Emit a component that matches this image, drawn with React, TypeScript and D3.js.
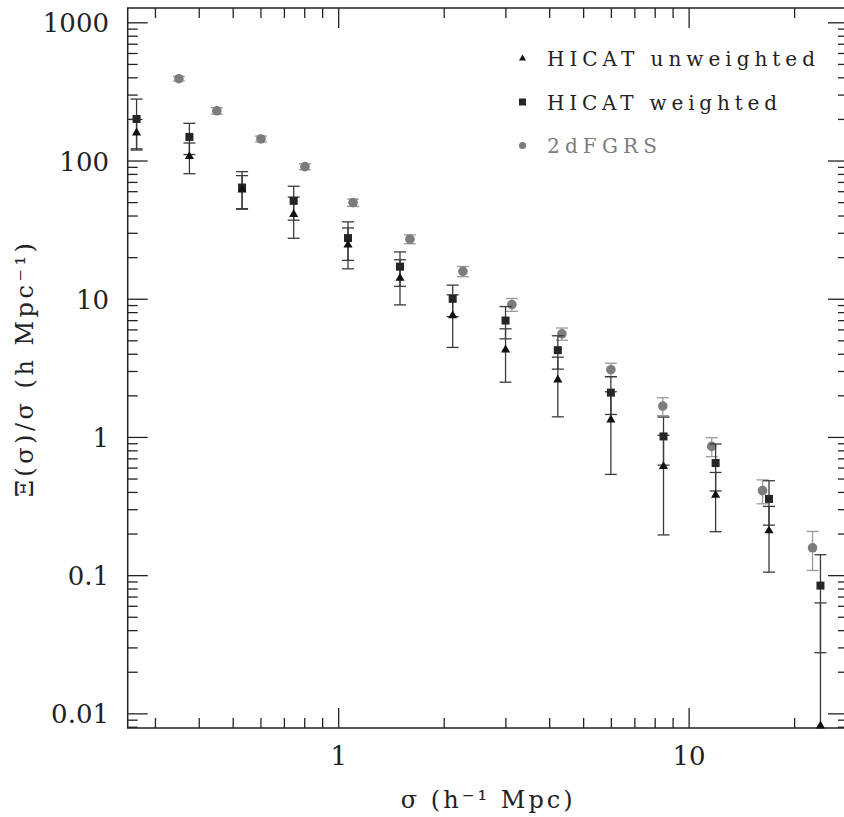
import React from 'react';
import * as d3 from 'd3';

// HICAT sample separations (h^-1 Mpc)
const sigmaHicat = [0.265, 0.375, 0.53, 0.744, 1.063, 1.496, 2.115, 2.993, 4.22, 5.98, 8.45, 11.9, 16.9, 23.7];
const unweighted = [160, 108, 61.8, 41.2, 24.7, 14.2, 7.62, 4.31, 2.61, 1.34, 0.617, 0.383, 0.2115, 0.0082];
const unweightedErr = [40, 27, 16.6, 13.6, 8.1, 5.1, 3.14, 1.8, 1.2, 0.8, 0.42, 0.175, 0.1055, 0.0553];
const weighted = [201.6, 149.4, 64.3, 51.5, 27.7, 17.2, 10.07, 7.01, 4.28, 2.11, 1.017, 0.653, 0.359, 0.0847];
const weightedErr = [79, 38, 19.5, 14.2, 8.6, 4.8, 2.58, 1.84, 1.16, 0.644, 0.387, 0.243, 0.127, 0.057];

// 2dFGRS
const sigma2df = [0.35, 0.449, 0.6, 0.801, 1.099, 1.597, 2.262, 3.121, 4.335, 5.98, 8.41, 11.6, 16.2, 22.5];
const xi2df = [394, 231, 144.5, 91.1, 50.0, 27.2, 15.9, 9.15, 5.62, 3.09, 1.687, 0.861, 0.412, 0.159];
const err2df = [15, 12, 7, 4.5, 3, 2, 1.35, 0.98, 0.57, 0.35, 0.25, 0.135, 0.081, 0.05];

const legendLabels = ['HICAT unweighted', 'HICAT weighted', '2dFGRS'];
const xLabel = 'σ  (h⁻¹ Mpc)';
const yLabel = 'Ξ(σ)/σ  (h Mpc⁻¹)';

const W = 844;
const H = 817;
const P = { left: 127.7, right: 848, top: 8, bottom: 728 };
const FONT = "'DejaVu Serif', serif";
const INK = '#222';
const GRAY = '#7c7c7c';

export default function App() {
  const x = d3.scaleLog().domain([0.25, 28.4]).range([P.left, P.right]);
  const y = d3.scaleLog().domain([0.0079, 1280]).range([P.bottom, P.top]);
  const yMin = y.domain()[0];
  const isMajor = (v: number) => Math.abs(Math.log10(v) - Math.round(Math.log10(v))) < 1e-6;
  const fmt = (v: number) => String(+v.toPrecision(1));
  const xTicks = x.ticks();
  const yTicks = y.ticks();

  const tri = d3.symbol().type(d3.symbolTriangle).size(36)();
  const triSmall = d3.symbol().type(d3.symbolTriangle).size(22)();

  const errBar = (key: string, xv: number, v: number, e: number, color: string, cap = 6) => {
    const cx = x(xv);
    const hi = v + e;
    const lo = v - e;
    const yHi = y(hi);
    const loIn = lo > yMin;
    const yLo = loIn ? y(lo) : P.bottom;
    return (
      <g key={key} stroke={color} strokeWidth={1.3}>
        <line x1={cx} x2={cx} y1={yHi} y2={yLo} />
        <line x1={cx - cap} x2={cx + cap} y1={yHi} y2={yHi} />
        {loIn && <line x1={cx - cap} x2={cx + cap} y1={yLo} y2={yLo} />}
      </g>
    );
  };

  const legendY = [58.5, 102, 145.5];
  const legendLen = [268, 230, 110];

  return (
    <svg width={W} height={H} style={{ position: 'absolute', left: 0, top: 0, background: '#fff' }}>
      <rect x={0} y={0} width={W} height={H} fill="#fff" />
      {/* frame */}
      <rect x={P.left} y={P.top} width={P.right - P.left} height={P.bottom - P.top} fill="none" stroke={INK} strokeWidth={1.5} />
      {/* y ticks */}
      {yTicks.map((t, i) => {
        const yy = y(t);
        const len = isMajor(t) ? 20 : 10;
        return (
          <g key={'yt' + i} stroke={INK} strokeWidth={1.3}>
            <line x1={P.left} x2={P.left + len} y1={yy} y2={yy} />
            <line x1={P.right} x2={P.right - len} y1={yy} y2={yy} />
          </g>
        );
      })}
      {yTicks.filter(isMajor).map((t, i) => (
        <text key={'yl' + i} x={109} y={y(t) + 9.5} textAnchor="end" fontFamily={FONT} fontSize={26} fill={INK}>
          {fmt(t)}
        </text>
      ))}
      {/* x ticks */}
      {xTicks.map((t, i) => {
        const xx = x(t);
        const len = isMajor(t) ? 20 : 10;
        return (
          <g key={'xt' + i} stroke={INK} strokeWidth={1.3}>
            <line x1={xx} x2={xx} y1={P.bottom} y2={P.bottom - len} />
            <line x1={xx} x2={xx} y1={P.top} y2={P.top + len} />
          </g>
        );
      })}
      {xTicks.filter(isMajor).map((t, i) => (
        <text key={'xl' + i} x={x(t)} y={765} textAnchor="middle" fontFamily={FONT} fontSize={26} fill={INK}>
          {fmt(t)}
        </text>
      ))}
      {/* axis labels */}
      <text x={400.7} y={808} fontFamily={FONT} fontSize={24} fill={INK} textLength={172} lengthAdjust="spacing">
        {xLabel}
      </text>
      <text
        transform="translate(33,497) rotate(-90)"
        x={0}
        y={0}
        fontFamily={FONT}
        fontSize={24}
        fill={INK}
        textLength={254}
        lengthAdjust="spacing"
      >
        {yLabel}
      </text>

      {/* 2dFGRS */}
      {sigma2df.map((s, i) => errBar('ge' + i, s, xi2df[i], err2df[i], '#9a9a9a'))}
      {sigma2df.map((s, i) => (
        <circle key={'gc' + i} cx={x(s)} cy={y(xi2df[i])} r={4.8} fill={GRAY} />
      ))}
      {/* HICAT error bars */}
      {sigmaHicat.map((s, i) => errBar('we' + i, s, weighted[i], weightedErr[i], '#3a3a3a'))}
      {sigmaHicat.map((s, i) => errBar('ue' + i, s, unweighted[i], unweightedErr[i], '#3a3a3a'))}
      {/* weighted squares */}
      {sigmaHicat.map((s, i) => (
        <rect key={'sq' + i} x={x(s) - 4} y={y(weighted[i]) - 4} width={8} height={8} fill="#262626" />
      ))}
      {/* unweighted triangles */}
      {sigmaHicat.map((s, i) => (
        <path key={'tr' + i} d={tri || ''} transform={`translate(${x(s)},${y(unweighted[i])})`} fill="#111" />
      ))}

      {/* legend */}
      <path d={triSmall || ''} transform={`translate(522.5,${legendY[0]})`} fill="#111" />
      <rect x={519} y={legendY[1] - 3.5} width={7} height={7} fill="#262626" />
      <circle cx={522.5} cy={legendY[2]} r={3.6} fill={GRAY} />
      {legendLabels.map((l, i) => (
        <text
          key={'lg' + i}
          x={547}
          y={legendY[i] + 7.5}
          fontFamily={FONT}
          fontSize={20}
          fill={i === 2 ? GRAY : INK}
          textLength={legendLen[i]}
          lengthAdjust="spacing"
        >
          {l}
        </text>
      ))}
    </svg>
  );
}
